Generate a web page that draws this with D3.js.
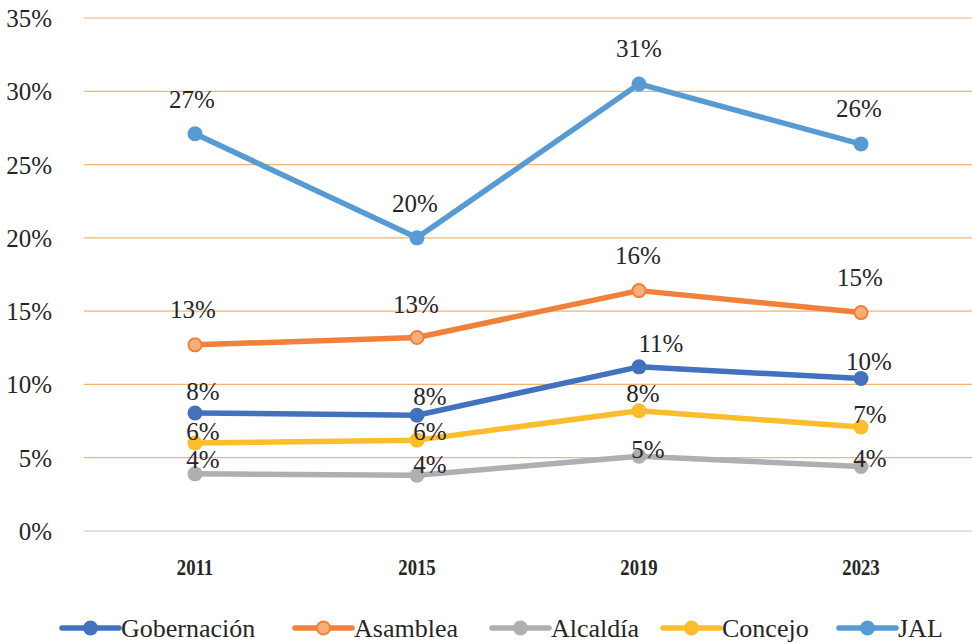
<!DOCTYPE html>
<html>
<head>
<meta charset="utf-8">
<script src="https://cdn.jsdelivr.net/npm/d3@7"></script>
<style>
  html, body { margin: 0; padding: 0; background: #fff; }
  svg { display: block; }
  svg text { font-family: "Liberation Serif", "Times New Roman", serif !important; }
</style>
</head>
<body>
<svg id="chart" width="972" height="644"></svg>
<script>
// Election years
const years = ["2011", "2015", "2019", "2023"];

// Share per office, in percent
const gobernacion = [8.05, 7.9, 11.2, 10.4];
const asamblea    = [12.7, 13.2, 16.4, 14.9];
const alcaldia    = [3.9, 3.8, 5.1, 4.4];
const concejo     = [6.0, 6.2, 8.2, 7.1];
const jal         = [27.1, 20.0, 30.5, 26.4];

// Y axis ticks, in percent
const yTicks = [0, 5, 10, 15, 20, 25, 30, 35];

const series = [
  { name: "Gobernación", values: gobernacion, color: "#4272bd", fill: "#4272bd" },
  { name: "Asamblea",    values: asamblea,    color: "#f0803a", fill: "#f5b07a" },
  { name: "Alcaldía",    values: alcaldia,    color: "#afafb2", fill: "#afafb2" },
  { name: "Concejo",     values: concejo,     color: "#fcbd2c", fill: "#fcbd2c" },
  { name: "JAL",         values: jal,         color: "#579bd5", fill: "#579bd5" }
];

// Value label nudges [dx, dy above the marker], per series and year
const labelNudge = [
  [[8, 13], [13, 10], [22, 15], [8, 9]],
  [[-2, 27], [-1, 25], [-1, 27], [-1, 27]],
  [[8, 6], [13, 2], [9, -2], [9, 0]],
  [[8, 3], [13, 0], [4, 9], [9, 4]],
  [[-3, 26], [-2, 26], [0, 27], [-2, 27]]
];

const INK = "#262626";

// Serif text helper
function serif(sel, size, weight) {
  return sel
    .attr("font-family", "Liberation Serif")
    .attr("font-size", size)
    .attr("font-weight", weight || "normal")
    .attr("fill", INK)
    .attr("style", `font-family: 'Liberation Serif', 'Times New Roman', serif !important; font-size: ${size}px; font-weight: ${weight || "normal"}; fill: ${INK};`);
}

const svg = d3.select("#chart");

const x = d3.scalePoint().domain(years).range([84, 972]).padding(0.5);
const y = d3.scaleLinear().domain([0, 35]).range([531, 18]);

// Horizontal gridlines
svg.append("g")
  .selectAll("line")
  .data(yTicks)
  .join("line")
  .attr("x1", 84).attr("x2", 972)
  .attr("y1", d => y(d)).attr("y2", d => y(d))
  .attr("stroke", d => d === 0 ? "#d9d9d9" : "#f6b26f")
  .attr("stroke-width", d => d === 0 ? 1.5 : 1.2);

const line = d3.line()
  .x((d, i) => x(years[i]))
  .y(d => y(d));

// Lines and markers
series.forEach(s => {
  const g = svg.append("g");
  g.append("path")
    .datum(s.values)
    .attr("d", line)
    .attr("fill", "none")
    .attr("stroke", s.color)
    .attr("stroke-width", 5.5)
    .attr("stroke-linejoin", "round")
    .attr("stroke-linecap", "round");
  g.selectAll("circle")
    .data(s.values)
    .join("circle")
    .attr("cx", (d, i) => x(years[i]))
    .attr("cy", d => y(d))
    .attr("r", s.name === "Asamblea" ? 6.5 : 7.5)
    .attr("fill", s.fill)
    .attr("stroke", s.color)
    .attr("stroke-width", s.name === "Asamblea" ? 2 : 0);
});

// Legend symbols
const legendX = [62, 295, 492, 663, 839];
series.forEach((s, i) => {
  svg.append("line")
    .attr("x1", legendX[i]).attr("x2", legendX[i] + 57)
    .attr("y1", 628).attr("y2", 628)
    .attr("stroke", s.color)
    .attr("stroke-width", 5.5)
    .attr("stroke-linecap", "round");
  svg.append("circle")
    .attr("cx", legendX[i] + 28.5)
    .attr("cy", 628)
    .attr("r", s.name === "Asamblea" ? 6.5 : 7.5)
    .attr("fill", s.fill)
    .attr("stroke", s.color)
    .attr("stroke-width", s.name === "Asamblea" ? 2 : 0);
});

// Y tick labels
yTicks.forEach(t => {
  serif(svg.append("text"), 25)
    .attr("x", 52)
    .attr("y", y(t) + 9)
    .attr("text-anchor", "end")
    .text(t + "%");
});

// X category labels
years.forEach(yr => {
  serif(svg.append("text"), 24, "bold")
    .attr("transform", `translate(${x(yr)},575) scale(0.78,1)`)
    .attr("text-anchor", "middle")
    .text(yr);
});

// Value labels
series.forEach((s, si) => {
  s.values.forEach((v, i) => {
    serif(svg.append("text"), 25)
      .attr("x", x(years[i]) + labelNudge[si][i][0])
      .attr("y", y(v) - labelNudge[si][i][1])
      .attr("text-anchor", "middle")
      .text(Math.round(v) + "%");
  });
});

// Legend labels
series.forEach((s, i) => {
  serif(svg.append("text"), 26)
    .attr("x", legendX[i] + 59)
    .attr("y", 637)
    .text(s.name);
});
</script>
</body>
</html>
